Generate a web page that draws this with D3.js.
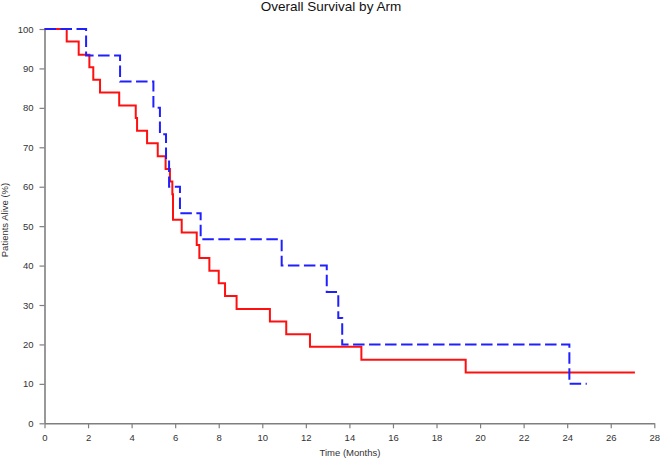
<!DOCTYPE html>
<html><head><meta charset="utf-8">
<script src="https://cdn.jsdelivr.net/npm/d3@7"></script>
<style>body{margin:0;background:#fff}svg{display:block}text{font-family:Arial,"Liberation Sans",sans-serif}</style>
</head><body><svg id="c" width="660" height="458"></svg>
<script>
const xTicks = [0,2,4,6,8,10,12,14,16,18,20,22,24,26,28];
const yTicks = [0,10,20,30,40,50,60,70,80,90,100];
const redTimes = [0,1.02,1.57,2.06,2.24,2.55,3.43,4.19,4.25,4.71,5.2,5.56,5.76,5.87,5.9,6.3,6.99,7.11,7.57,8.0,8.29,8.82,10.35,11.1,12.19,14.55,19.34,27.11];
const redSurv  = [100,96.8,93.5,90.3,87.1,83.9,80.6,77.4,74.2,71.0,67.7,64.5,61.3,58.1,51.6,48.4,45.2,41.9,38.7,35.5,32.3,29.0,25.8,22.6,19.4,16.1,12.9,12.9];
const blueTimes = [0,1.91,3.47,5.0,5.3,5.58,5.72,6.22,7.17,10.89,12.96,13.49,13.67,24.1,24.9];
const blueSurv  = [100,93.3,86.7,80,73.3,66.7,60,53.3,46.7,40,33.3,26.7,20,10,10];

const svg = d3.select("#c");
const x = d3.scaleLinear().domain([0,28]).range([44.5,654.3]);
const y = d3.scaleLinear().domain([0,100]).range([423.3,29]);

const axisColor = "#7f7f7f", textColor = "#333";
const xa = svg.append("g").attr("transform","translate(0,423.3)")
  .call(d3.axisBottom(x).tickValues(xTicks).tickSize(5).tickPadding(6).tickSizeOuter(0));
const ya = svg.append("g").attr("transform","translate(44.5,0)")
  .call(d3.axisLeft(y).tickValues(yTicks).tickSize(5).tickPadding(6).tickSizeOuter(0));
[xa,ya].forEach(a=>{
  a.select(".domain").attr("stroke",axisColor).attr("stroke-width",1.6);
  a.selectAll(".tick line").attr("stroke",axisColor).attr("stroke-width",1.2);
  a.selectAll(".tick text").attr("fill",textColor).attr("font-size",9.5).attr("font-family","Arial, 'Liberation Sans', sans-serif");
});

const line = d3.line().x(d=>x(d[0])).y(d=>y(d[1])).curve(d3.curveStepAfter);
svg.append("path").datum(redTimes.map((t,i)=>[t,redSurv[i]]))
  .attr("d",line).attr("fill","none").attr("stroke","#ff1010").attr("stroke-width",2);
svg.append("path").datum(blueTimes.map((t,i)=>[t,blueSurv[i]]))
  .attr("d",line).attr("fill","none").attr("stroke","#2020ff").attr("stroke-width",2)
  .attr("stroke-dasharray","11.5,4.5");

svg.append("text").attr("x",331).attr("y",11).attr("text-anchor","middle")
  .attr("font-size",13.5).attr("fill","#111").text("Overall Survival by Arm");
svg.append("text").attr("x",350).attr("y",456).attr("text-anchor","middle")
  .attr("font-size",9.5).attr("fill",textColor).text("Time (Months)");
svg.append("text").attr("transform","translate(8,220) rotate(-90)").attr("text-anchor","middle")
  .attr("font-size",9.5).attr("fill",textColor).text("Patients Alive (%)");
</script></body></html>
